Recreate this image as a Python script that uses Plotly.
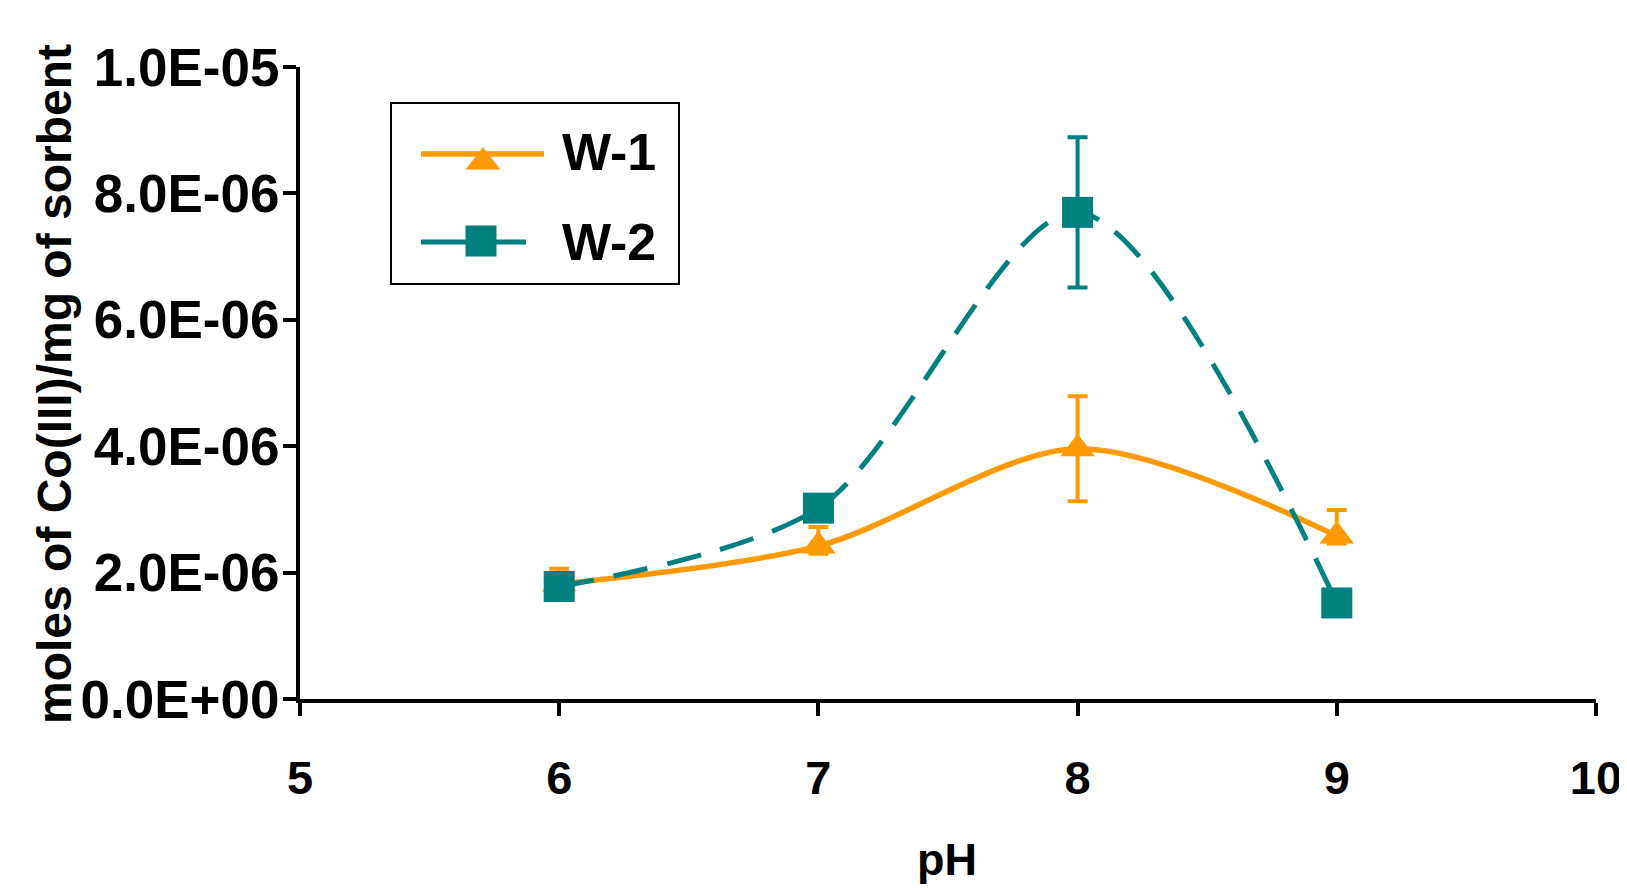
import plotly.graph_objects as go

# ---- data ----
ph = [6, 7, 8, 9]
w1 = [1.82e-6, 2.42e-6, 3.96e-6, 2.58e-6]
w1_err_plus = [0.24e-6, 0.30e-6, 0.83e-6, 0.41e-6]
w1_err_minus = [0.12e-6, 0.12e-6, 0.83e-6, 0.12e-6]
w2 = [1.78e-6, 3.02e-6, 7.70e-6, 1.52e-6]
w2_err = [0.10e-6, 0.10e-6, 1.19e-6, 0.10e-6]
x_ticks = [5, 6, 7, 8, 9, 10]
y_ticks = [0, 2e-6, 4e-6, 6e-6, 8e-6, 1e-5]
y_ticktext = ["0.0E+00", "2.0E-06", "4.0E-06", "6.0E-06", "8.0E-06", "1.0E-05"]
series_names = ["W-1", "W-2"]

ORANGE = "#FF9900"
TEAL = "#008080"
FONT = "Liberation Sans, Arial, sans-serif"

W, H = 1627, 888
L, R, T, B = 292, 39, 59, 197
PX0, PX1, PY0, PY1 = L, W - R, T, H - B  # plot area in figure pixels


def px_to_paper(px, py):
    return (px - PX0) / (PX1 - PX0), (PY1 - py) / (PY1 - PY0)


fig = go.Figure()
fig.add_trace(go.Scatter(
    x=ph, y=w1, name=series_names[0], mode="lines+markers",
    line=dict(color=ORANGE, width=5.5, shape="spline", smoothing=0.85),
    marker=dict(symbol="triangle-up", size=30, color=ORANGE),
    error_y=dict(type="data", symmetric=False, array=w1_err_plus, arrayminus=w1_err_minus,
                 visible=True, color=ORANGE, thickness=4, width=10),
    showlegend=False, cliponaxis=False))
fig.add_trace(go.Scatter(
    x=ph, y=w2, name=series_names[1], mode="lines+markers",
    line=dict(color=TEAL, width=5, shape="spline", smoothing=0.85, dash="35px,20px"),
    marker=dict(symbol="square", size=31, color=TEAL),
    error_y=dict(type="data", array=w2_err, visible=True, color=TEAL, thickness=4, width=10),
    showlegend=False, cliponaxis=False))

# ---- custom legend on a pixel-coordinate overlay ----
fig.add_trace(go.Scatter(x=[413, 536], y=[146, 146], xaxis="x2", yaxis="y2", mode="lines",
                         line=dict(color=ORANGE, width=5.5), showlegend=False, hoverinfo="skip"))
fig.add_trace(go.Scatter(x=[475], y=[154], xaxis="x2", yaxis="y2", mode="markers",
                         marker=dict(symbol="triangle-up", size=30, color=ORANGE),
                         showlegend=False, hoverinfo="skip"))
fig.add_trace(go.Scatter(x=[413, 518], y=[234, 234], xaxis="x2", yaxis="y2", mode="lines",
                         line=dict(color=TEAL, width=5), showlegend=False, hoverinfo="skip"))
fig.add_trace(go.Scatter(x=[473], y=[233], xaxis="x2", yaxis="y2", mode="markers",
                         marker=dict(symbol="square", size=31, color=TEAL),
                         showlegend=False, hoverinfo="skip"))

fig.add_shape(type="rect", xref="x2", yref="y2", x0=383, x1=671, y0=95, y1=276,
              line=dict(color="black", width=2), fillcolor="white", layer="below")
for name, yy in zip(series_names, [144, 234]):
    fig.add_annotation(x=552, y=yy, xref="x2", yref="y2", text=name, showarrow=False,
                       xanchor="left", yanchor="middle",
                       font=dict(family=FONT, size=52, color="black", weight="bold"))

# ---- axis titles ----
px, py = px_to_paper(939, 851)
fig.add_annotation(x=px, y=py, xref="paper", yref="paper",
                   text="pH", showarrow=False, xanchor="center", yanchor="middle",
                   font=dict(family=FONT, size=45, color="black", weight="bold"))
px, py = px_to_paper(46, 376)
fig.add_annotation(x=px, y=py, xref="paper", yref="paper",
                   text="moles of Co(III)/mg of sorbent", showarrow=False, textangle=-90,
                   xanchor="center", yanchor="middle",
                   font=dict(family=FONT, size=48, color="black", weight="bold"))

fig.update_layout(
    width=W, height=H,
    margin=dict(l=L, r=R, t=T, b=B, pad=0),
    paper_bgcolor="white", plot_bgcolor="white",
    showlegend=False,
    xaxis=dict(range=[5, 10], tickvals=x_ticks, ticks="outside", ticklen=13, tickwidth=4,
               tickcolor="black", showline=True, linewidth=4, linecolor="black",
               showgrid=False, zeroline=False, ticklabelstandoff=22,
               tickfont=dict(family=FONT, size=47, color="black", weight="bold")),
    yaxis=dict(range=[0, 1e-5], tickvals=y_ticks, ticktext=y_ticktext, ticks="outside",
               ticklen=13, tickwidth=4, tickcolor="black", showline=True, linewidth=4,
               linecolor="black", showgrid=False, zeroline=False, ticklabelstandoff=-7,
               tickfont=dict(family=FONT, size=53, color="black", weight="bold")),
    xaxis2=dict(overlaying="x", range=[PX0, PX1], visible=False, anchor="y2"),
    yaxis2=dict(overlaying="y", range=[PY1, PY0], visible=False, anchor="x2"),
)

fig.write_html("out.html")
